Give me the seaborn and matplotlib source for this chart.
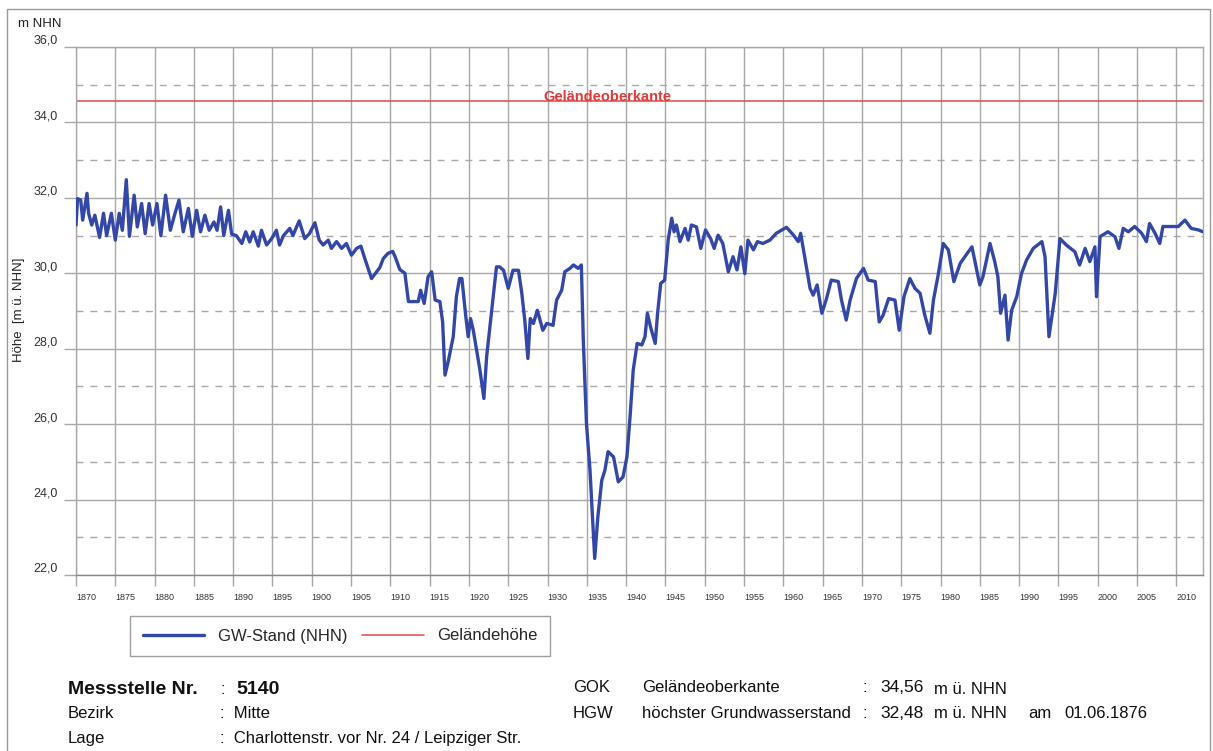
import matplotlib
matplotlib.use("Agg")
import matplotlib.pyplot as plt
from matplotlib.lines import Line2D
from matplotlib.patches import Rectangle
import seaborn as sns
import pandas as pd

# ---------------- data ----------------
years = [
    1870.0, 1870.2, 1870.6, 1870.85, 1871.4, 1871.6, 1872.0, 1872.4, 1873.0, 1873.5,
    1873.9, 1874.5, 1875.0, 1875.5, 1875.9, 1876.4, 1876.8, 1877.4, 1877.8, 1878.35,
    1878.8, 1879.3, 1879.75, 1880.3, 1880.8, 1881.4, 1882.0, 1882.6, 1883.1, 1883.65,
    1884.3, 1884.8, 1885.35, 1885.85, 1886.4, 1886.95, 1887.55, 1887.95, 1888.4, 1888.8,
    1889.4, 1889.8, 1890.4, 1891.1, 1891.6, 1892.1, 1892.55, 1893.2, 1893.6, 1894.25,
    1894.9, 1895.5, 1895.9, 1896.4, 1897.2, 1897.6, 1898.4, 1899.1, 1899.7, 1900.4,
    1900.95, 1901.45, 1902.1, 1902.5, 1903.15, 1903.8, 1904.4, 1905.05, 1905.7, 1906.25,
    1906.75, 1907.6, 1908.65, 1909.1, 1909.7, 1910.3, 1910.6, 1911.2, 1911.85, 1912.3,
    1913.55, 1913.85, 1914.3, 1914.8, 1915.25, 1915.7, 1916.3, 1916.65, 1916.95, 1917.4,
    1918.0, 1918.4, 1918.8, 1919.1, 1919.6, 1919.9, 1920.2, 1920.55, 1921.4, 1921.9,
    1922.25, 1922.9, 1923.5, 1923.9, 1924.4, 1925.0, 1925.6, 1926.3, 1926.7, 1927.1,
    1927.5, 1927.8, 1928.2, 1928.7, 1929.4, 1929.9, 1930.7, 1931.15, 1931.8, 1932.2,
    1932.85, 1933.3, 1933.9, 1934.3, 1934.55, 1934.95, 1935.4, 1936.0, 1936.4, 1936.9,
    1937.3, 1937.7, 1938.4, 1939.0, 1939.6, 1940.1, 1940.5, 1940.9, 1941.4, 1942.0,
    1942.4, 1942.7, 1943.1, 1943.7, 1944.0, 1944.4, 1944.9, 1945.35, 1945.8, 1946.1,
    1946.4, 1946.85, 1947.5, 1947.9, 1948.3, 1948.95, 1949.5, 1950.1, 1950.75, 1951.2,
    1951.7, 1952.3, 1953.0, 1953.6, 1954.1, 1954.6, 1955.1, 1955.5, 1956.2, 1956.7,
    1957.4, 1958.3, 1959.1, 1960.4, 1961.3, 1961.9, 1962.2, 1962.75, 1963.4, 1963.8,
    1964.3, 1964.9, 1965.5, 1966.1, 1967.0, 1967.4, 1968.0, 1968.5, 1969.3, 1970.2,
    1970.8, 1971.7, 1972.2, 1972.7, 1973.4, 1974.2, 1974.75, 1975.35, 1976.1, 1976.75,
    1977.4, 1978.0, 1978.65, 1979.1, 1979.7, 1980.35, 1981.0, 1981.7, 1982.5, 1983.1,
    1984.0, 1984.6, 1985.0, 1985.4, 1986.3, 1986.9, 1987.3, 1987.65, 1988.2, 1988.6,
    1989.05, 1989.7, 1990.3, 1990.95, 1991.8, 1992.9, 1993.3, 1993.8, 1994.6, 1995.2,
    1996.0, 1997.1, 1997.7, 1998.4, 1999.0, 1999.65, 1999.85, 2000.3, 2001.3, 2002.2,
    2002.7, 2003.25, 2003.9, 2004.7, 2005.6, 2006.2, 2006.6, 2007.3, 2007.9, 2008.3,
    2009.2, 2010.25, 2011.1, 2011.9, 2012.8, 2013.4,
]
levels = [
    31.28, 31.98, 31.94, 31.41, 32.12, 31.59, 31.28, 31.54, 30.95, 31.59,
    31.00, 31.59, 30.88, 31.59, 31.14, 32.48, 30.98, 32.07, 31.23, 31.85,
    31.05, 31.85, 31.28, 31.85, 31.00, 32.07, 31.14, 31.59, 31.94, 31.10,
    31.72, 30.98, 31.67, 31.10, 31.54, 31.14, 31.36, 31.14, 31.76, 31.00,
    31.67, 31.04, 31.00, 30.79, 31.10, 30.83, 31.10, 30.72, 31.14, 30.75,
    30.92, 31.14, 30.75, 31.00, 31.19, 31.00, 31.39, 30.92, 31.05, 31.34,
    30.88, 30.75, 30.88, 30.66, 30.84, 30.66, 30.79, 30.48, 30.66, 30.72,
    30.39, 29.86, 30.15, 30.39, 30.53, 30.58, 30.44, 30.10, 30.00, 29.25,
    29.25, 29.55, 29.20, 29.91, 30.04, 29.29, 29.25, 28.71, 27.30, 27.70,
    28.32, 29.38, 29.86, 29.86, 28.85, 28.32, 28.80, 28.49, 27.43, 26.68,
    27.79, 29.02, 30.17, 30.17, 30.08, 29.60, 30.08, 30.08, 29.51, 28.76,
    27.74, 28.80, 28.67, 29.02, 28.49, 28.67, 28.62, 29.29, 29.55, 30.04,
    30.13, 30.22, 30.13, 30.22, 28.23, 26.02, 24.78, 22.44, 23.54, 24.51,
    24.78, 25.27, 25.13, 24.47, 24.60, 25.13, 26.20, 27.43, 28.14, 28.10,
    28.32, 28.94, 28.58, 28.14, 28.94, 29.73, 29.82, 30.88, 31.46, 31.10,
    31.28, 30.84, 31.19, 30.88, 31.28, 31.23, 30.66, 31.15, 30.92, 30.66,
    31.01, 30.79, 30.04, 30.44, 30.09, 30.70, 29.99, 30.88, 30.62, 30.84,
    30.79, 30.88, 31.06, 31.22, 31.01, 30.84, 31.06, 30.40, 29.60, 29.42,
    29.69, 28.94, 29.33, 29.82, 29.78, 29.29, 28.76, 29.29, 29.86, 30.13,
    29.82, 29.78, 28.71, 28.89, 29.33, 29.29, 28.49, 29.38, 29.86, 29.60,
    29.47, 28.89, 28.41, 29.29, 29.95, 30.79, 30.62, 29.78, 30.26, 30.44,
    30.70, 30.09, 29.69, 29.91, 30.79, 30.31, 29.91, 28.94, 29.42, 28.23,
    29.02, 29.38, 29.99, 30.35, 30.66, 30.84, 30.44, 28.32, 29.47, 30.92,
    30.75, 30.57, 30.22, 30.66, 30.31, 30.70, 29.38, 30.97, 31.10, 30.97,
    30.66, 31.19, 31.10, 31.24, 31.06, 30.84, 31.32, 31.06, 30.79, 31.24,
    31.24, 31.24, 31.41, 31.19, 31.15, 31.10,
]
ground_level = 34.56
x_ticks = list(range(1870, 2011, 5))
y_major = [22, 24, 26, 28, 30, 32, 34, 36]
y_minor = [23, 25, 27, 29, 31, 33, 35]
y_tick_labels = ["22,0", "24,0", "26,0", "28,0", "30,0", "32,0", "34,0", "36,0"]
legend_labels = ["GW-Stand (NHN)", "Geländehöhe"]

# ---------------- style ----------------
sns.set_theme(style="white")
plt.rcParams["font.family"] = ["Liberation Sans", "DejaVu Sans"]

W, H = 1213, 751
fig = plt.figure(figsize=(W / 100, H / 100), dpi=100)
fig.patch.set_facecolor("white")
ax = fig.add_axes([76 / W, 1 - 575 / H, (1203 - 76) / W, (575 - 47) / H])

blue = "#3348a6"
red = "#e04848"
grid_c = "#a8a8a8"

# grid
for yv in y_major:
    ax.axhline(yv, color=grid_c, lw=1.0, zorder=0)
for yv in y_minor:
    ax.axhline(yv, color=grid_c, lw=1.0, ls=(0, (5, 5)), zorder=0)
for xv in x_ticks:
    ax.axvline(xv, color=grid_c, lw=1.0, zorder=0)

df = pd.DataFrame({"Jahr": years, "Stand": levels})
sns.lineplot(data=df, x="Jahr", y="Stand", ax=ax, color=blue, lw=2.4,
             estimator=None, sort=False, zorder=3)
ax.axhline(ground_level, color=red, lw=1.1, zorder=2)
ax.text(1937.6, ground_level - 0.08, "Geländeoberkante", color="#e03a3a",
        fontsize=10.5, fontweight="bold", ha="center", va="bottom", zorder=4)

ax.set_xlim(1870, 2013.4)
ax.set_ylim(22, 36)
ax.set_xticks(x_ticks)
ax.set_xticklabels([str(v) for v in x_ticks], fontsize=6.5, color="#333333", ha="left")
ax.set_yticks(y_major)
ax.set_yticklabels(y_tick_labels, fontsize=9, color="#333333")
ax.tick_params(axis="x", length=8, width=1, color=grid_c, pad=5, direction="out", bottom=True)
ax.tick_params(axis="y", length=9, width=1, color=grid_c, pad=4, direction="out", left=True)
for lbl in ax.get_yticklabels():
    lbl.set_va("bottom")
ax.set_xlabel("")
ax.set_ylabel("")
for sp in ax.spines.values():
    sp.set_color(grid_c)
    sp.set_linewidth(1.0)
ax.spines["bottom"].set_color("#888888")

fig.text(19 / W, 1 - 310 / H, "Höhe  [m ü. NHN]", rotation=90, fontsize=9.5,
         ha="center", va="center", color="#222222")
fig.text(18 / W, 1 - 24 / H, "m NHN", fontsize=9.5, ha="left", va="center", color="#222222")

# legend
handles = [Line2D([], [], color=blue, lw=2.4), Line2D([], [], color=red, lw=1.1)]
leg = fig.legend(handles, legend_labels, loc="center",
                 bbox_to_anchor=(130 / W, 1 - 660 / H, 420 / W, 48 / H), mode="expand",
                 ncol=2, handlelength=3.7, handletextpad=0.8, fontsize=12,
                 frameon=True, fancybox=False, borderaxespad=0, borderpad=0.75)
leg.get_frame().set_edgecolor("#888888")
leg.get_frame().set_linewidth(1.0)

# info block
def t(x, y, s, **kw):
    kw.setdefault("fontsize", 12)
    kw.setdefault("color", "#111111")
    fig.text(x / W, 1 - y / H, s, ha="left", va="center", **kw)

t(68, 689, "Messstelle Nr.", fontsize=14, fontweight="bold")
t(220, 689, ":")
t(236, 689, "5140", fontsize=14, fontweight="bold")
t(68, 713, "Bezirk")
t(220, 713, ":  Mitte")
t(68, 738, "Lage")
t(220, 738, ":  Charlottenstr. vor Nr. 24 / Leipziger Str.")

t(573, 688, "GOK")
t(642, 688, "Geländeoberkante")
t(863, 688, ":")
t(880, 688, "34,56", fontsize=12.5)
t(934, 689, "m ü. NHN")
t(573, 713, "HGW")
t(642, 713, "höchster Grundwasserstand")
t(863, 713, ":")
t(880, 713, "32,48", fontsize=12.5)
t(934, 714, "m ü. NHN")
t(1028, 714, "am")
t(1064, 714, "01.06.1876")

# page frame
fig.patches.append(Rectangle((7 / W, -0.02), (1210 - 7) / W, 1 - 9 / H + 0.02,
                             transform=fig.transFigure, fill=False,
                             edgecolor="#999999", lw=1.0))

fig.savefig("out.png", dpi=100, facecolor="white")
